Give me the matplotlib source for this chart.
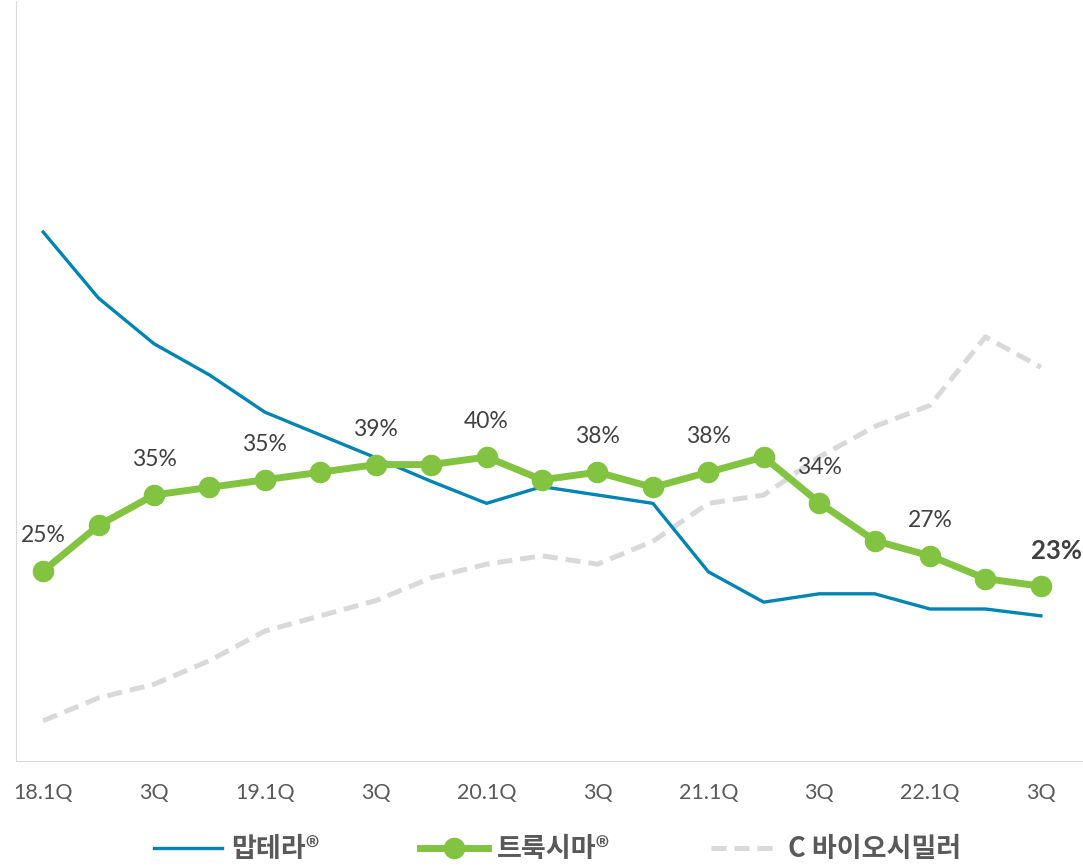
import matplotlib
matplotlib.use('Agg')
import matplotlib.pyplot as plt

# 분기
quarters = ['18.1Q', '2Q', '3Q', '4Q', '19.1Q', '2Q', '3Q', '4Q', '20.1Q', '2Q',
            '3Q', '4Q', '21.1Q', '2Q', '3Q', '4Q', '22.1Q', '2Q', '3Q']
tick_labels = ['18.1Q', '3Q', '19.1Q', '3Q', '20.1Q', '3Q', '21.1Q', '3Q', '22.1Q', '3Q']

# 점유율 (%)
mabthera = [69.6, 60.9, 54.9, 50.8, 45.9, 42.9, 39.9, 36.8, 33.9, 36.1,
            35.0, 33.9, 24.9, 20.9, 22.0, 22.0, 20.0, 20.0, 19.1]
truxima = [25, 31, 35, 36, 37, 38, 39, 39, 40, 37,
           38, 36, 38, 40, 34, 29, 27, 24, 23]
c_bio = [5.3, 8.3, 10.1, 13.2, 17.1, 19.1, 21.1, 24.1, 25.9, 27.0,
         25.9, 28.9, 33.9, 35.0, 40.0, 44.0, 46.8, 55.8, 51.8]

# 표시할 라벨
label_idx = [0, 2, 4, 6, 8, 10, 12, 14, 16, 18]
label_txt = ['25%', '35%', '35%', '39%', '40%', '38%', '38%', '34%', '27%', '23%']

plt.rcParams['font.family'] = ['Lato', 'DejaVu Sans']

fig = plt.figure(figsize=(10.83, 8.67), dpi=100)
ax = fig.add_axes([16/1083, 106/867, 1067/1083, 760/867])

x = list(range(len(quarters)))
l1, = ax.plot(x, mabthera, color='#0084B4', lw=2.4, label='맙테라®', zorder=2)
l2, = ax.plot(x, truxima, color='#82C341', lw=5, marker='o', markersize=14.5,
              label='트룩시마®', zorder=4)
l3, = ax.plot(x, c_bio, color='#D9D9D9', lw=3.6, dashes=(3, 1.6),
              label='C 바이오시밀러', zorder=1)

for i, t in zip(label_idx, label_txt):
    if i == len(quarters) - 1:
        ax.annotate(t, (x[i], truxima[i]), xytext=(11, 17), textcoords='offset points',
                    ha='center', va='bottom', fontsize=18.5, fontweight='bold', color='#404040')
    else:
        ax.annotate(t, (x[i], truxima[i]), xytext=(0, 18), textcoords='offset points',
                    ha='center', va='bottom', fontsize=16.5, color='#404040')

ax.set_xlim(-0.49, 18.76)
ax.set_ylim(0, 100)
ax.set_xticks(label_idx)
ax.set_xticklabels(tick_labels, fontsize=15.5, color='#595959')
ax.set_yticks([])
ax.tick_params(axis='x', length=0, pad=16)
for s in ['top', 'right']:
    ax.spines[s].set_visible(False)
ax.spines['left'].set_color('#D9D9D9')
ax.spines['bottom'].set_color('#D9D9D9')

leg = fig.legend(handles=[l1, l2, l3], loc='lower center', bbox_to_anchor=(0.515, -0.024),
                 ncol=3, frameon=False, handlelength=2.5, handletextpad=0.35, columnspacing=3.7,
                 prop={'family': ['Noto Sans CJK KR', 'DejaVu Sans'], 'weight': 'bold', 'size': 19.5})
for t in leg.get_texts():
    t.set_color('#595959')

fig.savefig('out.png', dpi=100)
